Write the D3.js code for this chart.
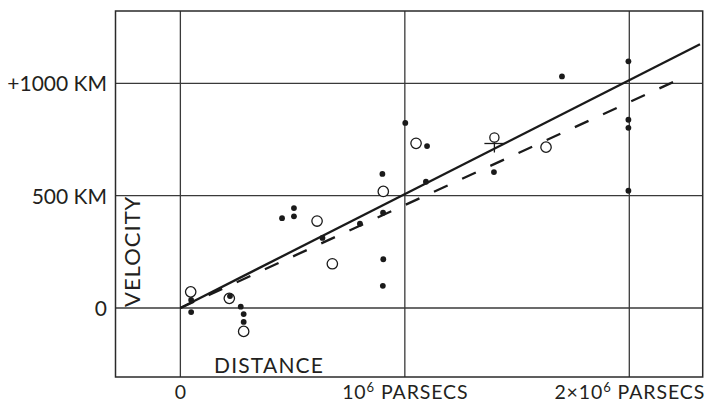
<!DOCTYPE html>
<html>
<head>
<meta charset="utf-8">
<script src="https://cdn.jsdelivr.net/npm/d3@7"></script>
<style>
  html, body { margin: 0; padding: 0; background: #fff; }
  svg { display: block; }
  text { font-family: Lato, "Open Sans", sans-serif; fill: #231f20; }
</style>
</head>
<body>
<svg id="chart" width="707" height="404"></svg>
<script>
// Distance in units of 10^6 parsecs, velocity in km/s
const filledDist = [0.048, 0.048, 0.221, 0.269, 0.282, 0.282, 0.453, 0.506, 0.506, 0.633, 0.800, 0.903, 0.900, 0.904, 0.902, 1.002, 1.099, 1.094, 1.397, 1.700, 1.996, 1.996, 1.996, 1.996];
const filledVel  = [36, -18, 53, 6, -27, -62, 400, 445, 408, 312, 375, 424, 597, 217, 99, 824, 721, 562, 605, 1031, 1098, 838, 802, 522];
const openDist = [0.046, 0.218, 0.282, 0.609, 0.677, 0.904, 1.050, 1.629];
const openVel  = [72, 43, -104, 387, 197, 519, 733, 716];
const markedDist = [1.399];
const markedVel  = [759];
const solidFit  = [[0, 0], [2.315, 1174]];
const dashedFit = [[0, 0], [2.196, 1006]];
const xGrid = [0, 1, 2];
const yGrid = [0, 500, 1000];
const xTickLabels = ["0", "10|6| PARSECS", "2×10|6| PARSECS"];
const yTickLabels = ["0", "500 KM", "+1000 KM"];

const svg = d3.select("#chart");
const L = 115.5, R = 702.7, T = 11, B = 377;
const x = d3.scaleLinear().domain([-0.289, 2.327]).range([L, R]);
const y = d3.scaleLinear().domain([-307, 1322]).range([B, T]);

// grid
svg.selectAll("line.gx").data(xGrid).enter().append("line")
  .attr("x1", d => x(d)).attr("x2", d => x(d)).attr("y1", T).attr("y2", B)
  .attr("stroke", "#3a3a3a").attr("stroke-width", 1.3);
svg.selectAll("line.gy").data(yGrid).enter().append("line")
  .attr("x1", L).attr("x2", R).attr("y1", d => y(d)).attr("y2", d => y(d))
  .attr("stroke", "#3a3a3a").attr("stroke-width", 1.3);
svg.append("rect").attr("x", L).attr("y", T).attr("width", R - L).attr("height", B - T)
  .attr("fill", "none").attr("stroke", "#2a2a2a").attr("stroke-width", 1.5);

// tick labels
svg.selectAll("text.yl").data(yGrid).enter().append("text")
  .attr("x", 107).attr("y", d => y(d) + 8).attr("text-anchor", "end")
  .attr("font-size", 21).text((d, i) => yTickLabels[i]);

xGrid.forEach((d, i) => {
  const parts = xTickLabels[i].split("|");
  const t = svg.append("text").attr("x", x(d) + (i ? 0.5 : 0)).attr("y", 399)
    .attr("text-anchor", "middle").attr("font-size", 19.5)
    .attr("letter-spacing", i ? 0.9 : 0);
  parts.forEach((p, j) => {
    const ts = t.append("tspan").text(p);
    if (j === 1) ts.attr("font-size", 13).attr("dy", -7.5);
    if (j === 2) ts.attr("dy", 7.5);
  });
});

// axis titles
svg.append("text").attr("transform", `translate(140,307) rotate(-90)`)
  .attr("font-size", 22).attr("letter-spacing", 1).text("VELOCITY");
svg.append("text").attr("x", 214).attr("y", 373)
  .attr("font-size", 21).attr("letter-spacing", 1.2).text("DISTANCE");

// fitted lines
const line = d3.line().x(d => x(d[0])).y(d => y(d[1]));
svg.append("path").attr("d", line(solidFit)).attr("fill", "none")
  .attr("stroke", "#1a1a1a").attr("stroke-width", 2.3);
svg.append("path").attr("d", line(dashedFit)).attr("fill", "none")
  .attr("stroke", "#1a1a1a").attr("stroke-width", 2.3).attr("stroke-dasharray", "15,16");

// open circles
svg.selectAll("circle.open").data(openDist).enter().append("circle")
  .attr("cx", d => x(d)).attr("cy", (d, i) => y(openVel[i])).attr("r", 5.2)
  .attr("fill", "#fff").attr("stroke", "#1a1a1a").attr("stroke-width", 1.3);

// filled dots
svg.selectAll("circle.fill").data(filledDist).enter().append("circle")
  .attr("cx", d => x(d)).attr("cy", (d, i) => y(filledVel[i])).attr("r", 2.9)
  .attr("fill", "#1a1a1a");

// marked point (circle with cross)
markedDist.forEach((d, i) => {
  const cx = x(d), cy = y(markedVel[i]);
  const g = svg.append("g").attr("stroke", "#1a1a1a").attr("stroke-width", 1.3).attr("fill", "none");
  g.append("circle").attr("cx", cx).attr("cy", cy).attr("r", 4.6);
  g.append("line").attr("x1", cx - 10).attr("x2", cx + 10).attr("y1", cy + 6).attr("y2", cy + 6);
  g.append("line").attr("x1", cx).attr("x2", cx).attr("y1", cy + 4.6).attr("y2", cy + 15);
});
</script>
</body>
</html>
